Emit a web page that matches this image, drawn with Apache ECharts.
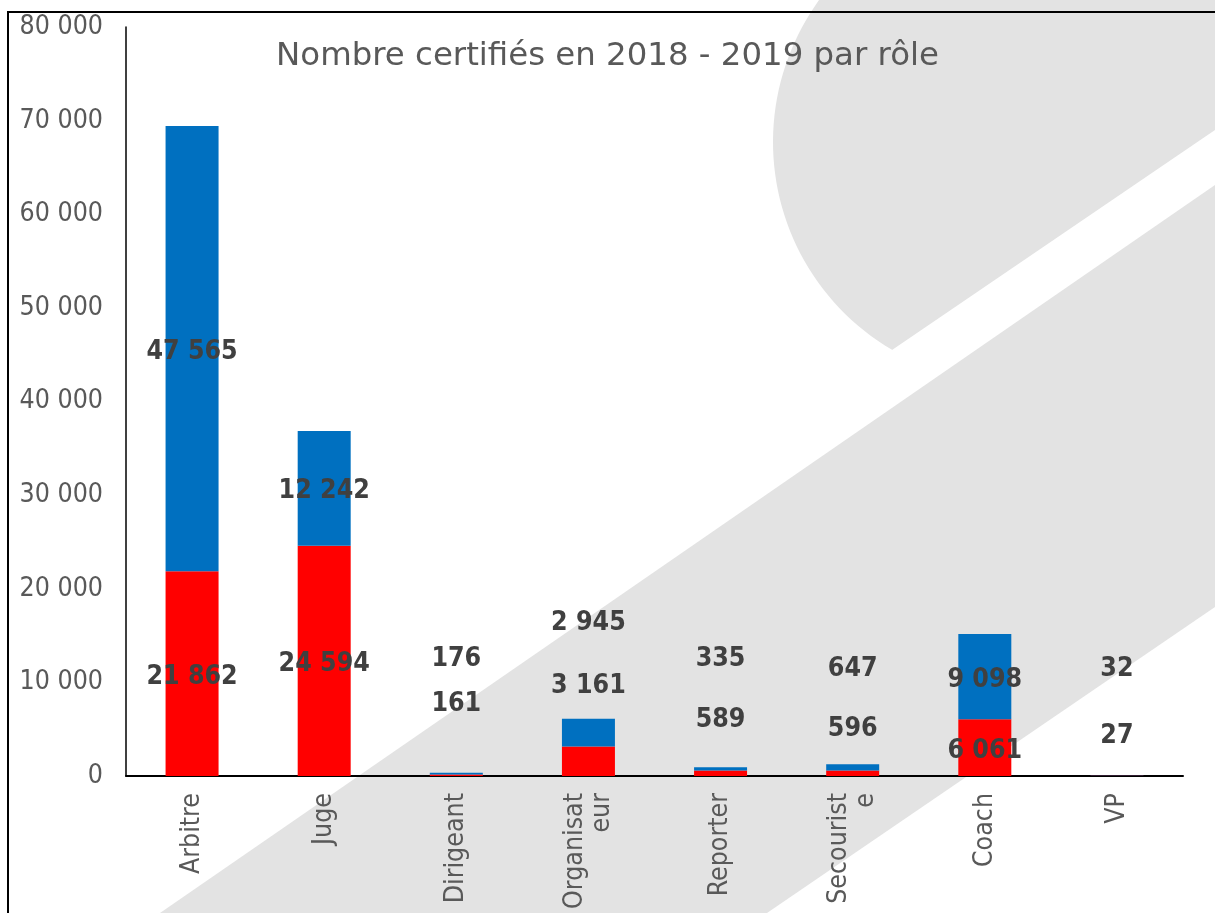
<!DOCTYPE html>
<html>
<head>
<meta charset="utf-8">
<script src="https://cdn.jsdelivr.net/npm/echarts@6/dist/echarts.min.js"></script>
<style>
  html, body { margin: 0; padding: 0; background: #fff; }
  #chart { width: 1215px; height: 913px; }
</style>
</head>
<body>
<div id="chart"></div>
<script>
    // roles and counts
    var roles = ['Arbitre', 'Juge', 'Dirigeant', 'Organisateur', 'Reporter', 'Secouriste', 'Coach', 'VP'];
    var certified2018 = [21862, 24594, 161, 3161, 589, 596, 6061, 27];
    var certified2019 = [47565, 12242, 176, 2945, 335, 647, 9098, 32];
    var yTicks = [0, 10000, 20000, 30000, 40000, 50000, 60000, 70000, 80000];

    // labels of the small bars were dragged upward in the original
    var redLabelShift = [3, 3, -71, -75, -53, -44, 3, -40];
    var blueLabelShift = [3, 3, -115, -110, -110, -98, 3, -106];

    var font = 'DejaVu Sans, Verdana, sans-serif';
    var narrow = '"DejaVu Sans Condensed", "DejaVu Sans", sans-serif';

    function spaced(v) {
        return String(v).replace(/\B(?=(\d{3})+(?!\d))/g, ' ');
    }

    function withLabels(values, shifts) {
        return values.map(function (v, i) {
            return { value: v, label: { offset: [0, shifts[i]] } };
        });
    }

    // background decoration: grey arc at top right, two diagonal bands
    function arcShape() {
        var cx = 1014, cy = 142, r = 241;
        var pts = [];
        for (var a = 120.4; a <= 216.1; a += 2) {
            var t = a * Math.PI / 180;
            pts.push([cx + r * Math.cos(t), cy + r * Math.sin(t)]);
        }
        pts.push([819, 0], [1215, 0], [1215, 130], [892, 350]);
        return pts;
    }

    var myChart = echarts.init(document.getElementById('chart'));

    var option = {
        backgroundColor: '#ffffff',
        animation: false,
        graphic: [
            { type: 'polygon', z: -10, silent: true, shape: { points: arcShape() }, style: { fill: '#e3e3e3' } },
            { type: 'polygon', z: -10, silent: true,
              shape: { points: [[160, 913], [1215, 185], [1215, 607], [767, 913]] },
              style: { fill: '#e3e3e3' } },
            { type: 'polyline', z: 50, silent: true,
              shape: { points: [[8, 913], [8, 12], [1215, 12]] },
              style: { stroke: '#000', lineWidth: 2, fill: null } }
        ],
        title: {
            text: 'Nombre certifiés en 2018 - 2019 par rôle',
            left: 'center',
            top: 36,
            textStyle: { fontFamily: font, fontSize: 32.4, fontWeight: 'normal', color: '#595959' }
        },
        grid: { left: 126, right: 32, top: 27, bottom: 137, outerBoundsMode: 'none' },
        xAxis: {
            type: 'category',
            data: roles,
            axisLine: { lineStyle: { color: '#000', width: 2 } },
            axisTick: { show: false },
            axisLabel: {
                rotate: 90,
                margin: 17,
                color: '#595959',
                fontFamily: narrow,
                fontSize: 26.5,
                width: 121,
                overflow: 'breakAll',
                lineHeight: 27
            }
        },
        yAxis: {
            type: 'value',
            min: yTicks[0],
            max: yTicks[yTicks.length - 1],
            interval: yTicks[1] - yTicks[0],
            axisLine: { show: true, lineStyle: { color: '#000', width: 1.5 } },
            axisTick: { show: false },
            splitLine: { show: false },
            axisLabel: {
                margin: 23,
                color: '#595959',
                fontFamily: narrow,
                fontSize: 26.5,
                formatter: spaced
            }
        },
        series: [
            {
                name: '2018',
                type: 'bar',
                stack: 'total',
                barWidth: 53,
                itemStyle: { color: '#ff0000' },
                label: {
                    show: true,
                    position: 'inside',
                    color: '#404040',
                    fontFamily: narrow,
                    fontSize: 26.5,
                    fontWeight: 'bold',
                    formatter: function (p) { return spaced(p.value); }
                },
                data: withLabels(certified2018, redLabelShift)
            },
            {
                name: '2019',
                type: 'bar',
                stack: 'total',
                barWidth: 53,
                itemStyle: { color: '#0070c0' },
                label: {
                    show: true,
                    position: 'inside',
                    color: '#404040',
                    fontFamily: narrow,
                    fontSize: 26.5,
                    fontWeight: 'bold',
                    formatter: function (p) { return spaced(p.value); }
                },
                data: withLabels(certified2019, blueLabelShift)
            }
        ]
    };

    myChart.setOption(option);
</script>
</body>
</html>
